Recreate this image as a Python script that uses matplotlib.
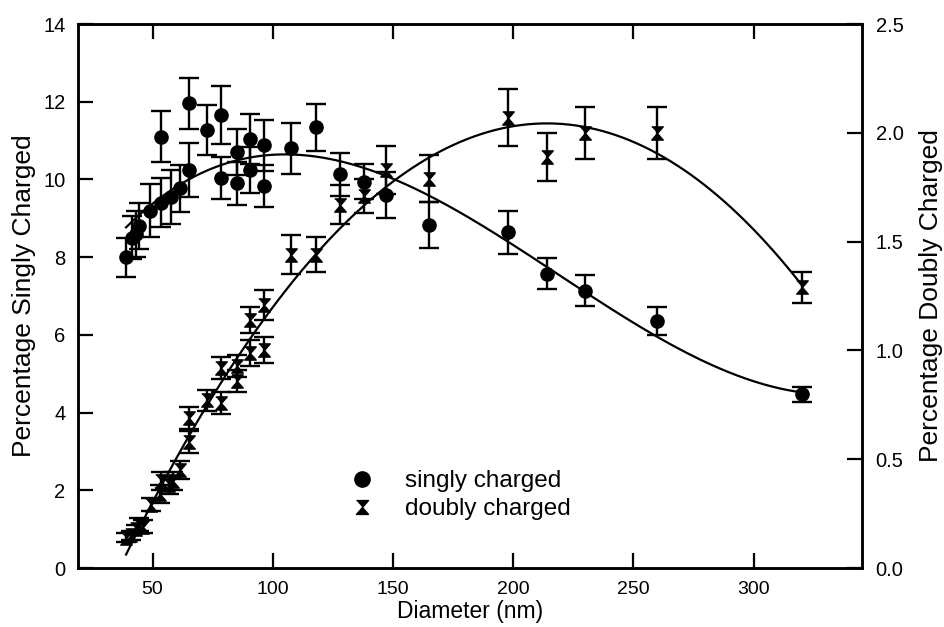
import numpy as np
import matplotlib
matplotlib.use("Agg")
import matplotlib.pyplot as plt
from matplotlib.lines import Line2D

plt.rcParams['font.family'] = ['Liberation Sans', 'DejaVu Sans']

# singly charged (left axis, %)
x_single = [39, 41.5, 43, 44.5, 49, 53.5, 53.5, 57.5, 61.5, 65, 65, 72.5, 78.5, 78.5,
            85, 85, 90.5, 90.5, 96.5, 96.5, 107.5, 118, 128, 138, 147, 165, 198, 214,
            230, 260, 320]
y_single = [8.0, 8.5, 8.6, 8.8, 9.2, 9.4, 11.1, 9.55, 9.77, 10.24, 11.96, 11.27, 11.66, 10.04,
            10.71, 9.9, 11.04, 10.24, 10.88, 9.83, 10.8, 11.34, 10.13, 9.94, 9.6, 8.83, 8.64, 7.57,
            7.14, 6.36, 4.47]
err_single = [0.5, 0.55, 0.6, 0.6, 0.69, 0.63, 0.65, 0.7, 0.6, 0.7, 0.65, 0.65, 0.75, 0.55,
              0.6, 0.55, 0.65, 0.6, 0.65, 0.55, 0.65, 0.6, 0.55, 0.45, 0.6, 0.6, 0.55, 0.4,
              0.4, 0.35, 0.2]

# doubly charged (right axis, %)
x_double = [39, 41, 43, 44.5, 46, 49.5, 53, 53.5, 57, 58.5, 61.5, 65, 65, 72.5, 78.5, 78.5,
            85, 85, 90.5, 90.5, 96.5, 96.5, 107.5, 118, 128, 138, 147, 165, 198, 214,
            230, 260, 320]
y_double = [0.14, 0.15, 0.18, 0.20, 0.19, 0.29, 0.34, 0.40, 0.38, 0.40, 0.45, 0.58, 0.69, 0.77,
            0.76, 0.92, 0.93, 0.86, 0.99, 1.14, 1.00, 1.21, 1.44, 1.44, 1.67, 1.71, 1.83, 1.79,
            2.07, 1.89, 2.00, 2.00, 1.29]
err_double = [0.02, 0.02, 0.02, 0.03, 0.03, 0.03, 0.04, 0.04, 0.04, 0.04, 0.04, 0.05, 0.05, 0.05,
              0.05, 0.05, 0.05, 0.05, 0.06, 0.06, 0.06, 0.07, 0.09, 0.08, 0.09, 0.08, 0.11, 0.11,
              0.13, 0.11, 0.12, 0.12, 0.07]

# hourglass marker
hourglass = [(-1, 1.15), (1, 1.15), (0, 0), (1, -1.15), (-1, -1.15), (0, 0)]

fig = plt.figure(figsize=(9.45, 6.27), dpi=100)
ax = fig.add_axes([0.0825, 0.094, 0.8295, 0.8677])
ax2 = ax.twinx()

ax.errorbar(x_single, y_single, yerr=err_single, fmt='o', color='k', ms=9.5,
            capsize=7, elinewidth=1.7, capthick=1.7)
ax2.errorbar(x_double, y_double, yerr=err_double, fmt='none', ecolor='k',
             capsize=7, elinewidth=1.7, capthick=1.7)
ax2.plot(x_double, y_double, ls='none', marker=hourglass, color='k', ms=9.5)

# cubic fits (singly weighted by its error bars)
xs = np.linspace(min(x_single), max(x_single), 300)
p1 = np.polyfit(x_single, y_single, 3, w=1 / np.array(err_single))
ax.plot(xs, np.polyval(p1, xs), color='k', lw=1.6)
p2 = np.polyfit(x_double, y_double, 3)
ax2.plot(xs, np.polyval(p2, xs), color='k', lw=1.6)

ax.set_xlim(19, 345)
ax.set_ylim(0, 14)
ax2.set_ylim(0, 2.5)
ax.set_xticks([50, 100, 150, 200, 250, 300])
ax.set_yticks(range(0, 15, 2))
ax2.set_yticks([0, 0.5, 1.0, 1.5, 2.0, 2.5])
ax2.set_yticklabels(['0.0', '0.5', '1.0', '1.5', '2.0', '2.5'])

ax.tick_params(axis='x', direction='in', top=True, length=11, width=1.6, labelsize=14, pad=9)
ax.tick_params(axis='y', direction='in', length=11, width=1.6, labelsize=14.5, pad=9)
ax2.tick_params(axis='y', direction='in', length=11, width=1.6, labelsize=14.5, pad=10)
for a in (ax, ax2):
    for s in a.spines.values():
        s.set_linewidth(1.8)

ax.set_xlabel('Diameter (nm)', fontsize=16.5)
ax.xaxis.set_label_coords(0.5, -0.058)
ax.set_ylabel('Percentage Singly Charged', fontsize=19, labelpad=5)
ax2.set_ylabel('Percentage Doubly Charged', fontsize=19, labelpad=11)

handles = [Line2D([], [], ls='none', marker='o', color='k', ms=11),
           Line2D([], [], ls='none', marker=hourglass, color='k', ms=10)]
ax2.legend(handles, ['singly charged', 'doubly charged'], loc='center',
           bbox_to_anchor=(0.48, 0.134), frameon=False, fontsize=17.5,
           handlelength=2, handletextpad=0.8, labelspacing=0.25)

fig.savefig('out.png', dpi=100)
